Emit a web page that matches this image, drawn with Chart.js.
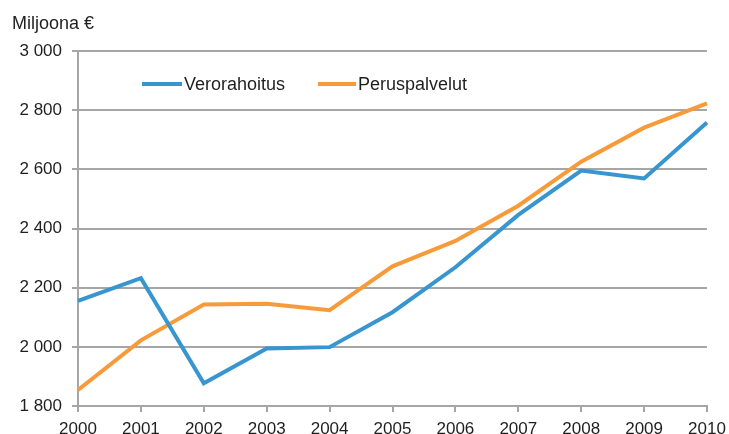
<!DOCTYPE html>
<html>
<head>
<meta charset="utf-8">
<script src="https://cdn.jsdelivr.net/npm/chart.js@4/dist/chart.umd.min.js"></script>
<style>
html,body{margin:0;padding:0;background:#fff;}
#wrap{width:729px;height:434px;position:relative;}
</style>
</head>
<body>
<div id="wrap"><canvas id="c" width="729" height="434"></canvas></div>
<script>
const years = ["2000","2001","2002","2003","2004","2005","2006","2007","2008","2009","2010"];
const verorahoitus = [2155, 2232, 1877, 1994, 1999, 2117, 2269, 2446, 2596, 2569, 2758];
const peruspalvelut = [1854, 2022, 2143, 2146, 2124, 2272, 2358, 2477, 2626, 2741, 2823];
const seriesNames = ["Verorahoitus", "Peruspalvelut"];
const unitLabel = "Miljoona €";
const yMin = 1800, yMax = 3000, yStep = 200;

const FONT = "'Liberation Sans', Arial, Helvetica, sans-serif";
Chart.defaults.font.family = FONT;
Chart.defaults.font.size = 17;
Chart.defaults.color = '#1f1f1f';

const colors = ['#3796cf', '#f79b3a'];

const customPlugin = {
  id: 'custom',
  afterDraw(chart) {
    const ctx = chart.ctx;
    ctx.save();
    ctx.font = "18px " + FONT;
    ctx.fillStyle = '#1f1f1f';
    ctx.textBaseline = 'alphabetic';
    ctx.textAlign = 'left';
    ctx.fillText(unitLabel, 12, 29);
    // legend
    const y = 84;
    const items = [{x0:142, x1:182}, {x0:318, x1:356}];
    chart.data.datasets.forEach((ds, i) => {
      const it = items[i];
      ctx.strokeStyle = ds.borderColor;
      ctx.lineWidth = 4;
      ctx.lineCap = 'butt';
      ctx.beginPath();
      ctx.moveTo(it.x0, y);
      ctx.lineTo(it.x1, y);
      ctx.stroke();
      ctx.textBaseline = 'middle';
      ctx.fillText(ds.label, it.x1 + 2, y + 1);
    });
    ctx.restore();
  }
};

new Chart(document.getElementById('c'), {
  type: 'line',
  data: {
    labels: years,
    datasets: [
      {label: seriesNames[0], data: verorahoitus, borderColor: colors[0], backgroundColor: colors[0], borderWidth: 4, pointRadius: 0, tension: 0},
      {label: seriesNames[1], data: peruspalvelut, borderColor: colors[1], backgroundColor: colors[1], borderWidth: 4, pointRadius: 0, tension: 0}
    ]
  },
  options: {
    responsive: false,
    animation: false,
    devicePixelRatio: 1,
    layout: {padding: {top: 51, right: 22, left: 0, bottom: 0}},
    plugins: {legend: {display: false}, tooltip: {enabled: false}},
    scales: {
      x: {
        offset: false,
        afterFit: s => { s.height = 28; s.paddingLeft = 0; s.paddingRight = 0; },
        grid: {display: true, drawOnChartArea: false, drawTicks: true, tickLength: 6, color: '#a6a6a6', lineWidth: 2},
        border: {display: true, color: '#a6a6a6', width: 2},
        ticks: {padding: 7, maxRotation: 0, autoSkip: false, color: '#1f1f1f'}
      },
      y: {
        min: yMin, max: yMax,
        afterFit: s => { s.width = 78; s.paddingTop = 0; s.paddingBottom = 0; },
        grid: {display: true, drawOnChartArea: true, drawTicks: true, tickLength: 6, color: '#a6a6a6', lineWidth: 2},
        border: {display: true, color: '#a6a6a6', width: 2},
        ticks: {
          stepSize: yStep, padding: 10, color: '#1f1f1f',
          callback: v => String(v).replace(/\B(?=(\d{3})+(?!\d))/g, ' ')
        }
      }
    }
  },
  plugins: [customPlugin]
});
</script>
</body>
</html>
